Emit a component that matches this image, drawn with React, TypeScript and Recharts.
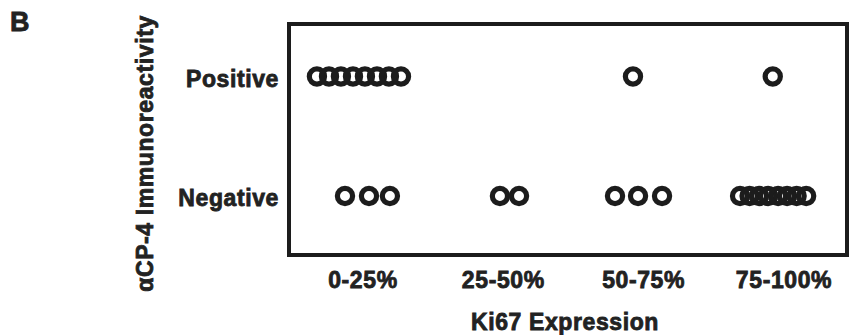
import { ScatterChart, Scatter, XAxis, YAxis, ReferenceArea } from 'recharts';

// Ki67 bins on the x axis (1..4), jittered positions
const kiBins = ['0-25%', '25-50%', '50-75%', '75-100%'];
const rowLabels = ['Negative', 'Positive'];

const positiveX = [0.672, 0.758, 0.843, 0.929, 1.014, 1.1, 1.185, 1.271, 2.924, 3.92];
const negativeX = [
  0.872, 1.043, 1.192,
  1.976, 2.112,
  2.796, 2.96, 3.131,
  3.687, 3.755, 3.822, 3.887, 3.958, 4.022, 4.09, 4.158,
];

const xDomain = [0.473, 4.449];
const yDomain = [-0.494, 1.439];

const positive = positiveX.map(x => ({ x, y: 1 }));
const negative = negativeX.map(x => ({ x, y: 0 }));

const INK = '#1c1c1c';
const FONT = '"Liberation Sans", Arial, sans-serif';
const textStyle = {
  fontFamily: FONT, fontWeight: 700, fontSize: 23, letterSpacing: 0.6,
  fill: '#222', stroke: '#222', strokeWidth: 0.8,
};

const Ring = (props: any) => (
  <circle cx={props.cx} cy={props.cy} r={7.6} fill="none" stroke={INK} strokeWidth={5.2} />
);

const YTitle = (props: any) => {
  const vb = props.viewBox;
  const cx = vb.x + 145;
  const cy = vb.y + vb.height / 2 + 14;
  return (
    <text x={cx} y={cy} transform={`rotate(-90 ${cx} ${cy})`} textAnchor="middle" dominantBaseline="central" style={textStyle}>
      αCP-4 Immunoreactivity
    </text>
  );
};

const XTitle = (props: any) => {
  const vb = props.viewBox;
  return (
    <text x={vb.x + vb.width / 2 - 3} y={330} textAnchor="middle" style={textStyle}>
      Ki67 Expression
    </text>
  );
};

export default function App() {
  return (
    <div style={{ position: 'absolute', left: 0, top: 0, width: 854, height: 335, background: '#fff', fontFamily: FONT }}>
      <span style={{ position: 'absolute', left: 10, top: 9, fontSize: 27, lineHeight: '27px', fontWeight: 700, color: '#222', WebkitTextStroke: '0.8px #222' }}>B</span>
      <ScatterChart width={854} height={335} margin={{ top: 24, right: 7, bottom: 10, left: 0 }}>
        <XAxis
          type="number"
          dataKey="x"
          domain={xDomain}
          ticks={[1, 2, 3, 4]}
          tickFormatter={(v) => kiBins[v - 1]}
          axisLine={false}
          tickLine={false}
          tickMargin={11}
          tick={textStyle}
          height={70}
          label={<XTitle />}
        />
        <YAxis
          type="number"
          dataKey="y"
          domain={yDomain}
          ticks={[0, 1]}
          tickFormatter={(v) => rowLabels[v]}
          axisLine={false}
          tickLine={false}
          tickMargin={4}
          tick={{ ...textStyle, dy: 2 }}
          width={289}
          label={<YTitle />}
        />
        <ReferenceArea
          x1={xDomain[0]}
          x2={xDomain[1]}
          y1={yDomain[0]}
          y2={yDomain[1]}
          fill="none"
          fillOpacity={0}
          stroke={INK}
          strokeWidth={4}
          ifOverflow="visible"
        />
        <Scatter data={negative} shape={<Ring />} isAnimationActive={false} />
        <Scatter data={positive} shape={<Ring />} isAnimationActive={false} />
      </ScatterChart>
    </div>
  );
}
